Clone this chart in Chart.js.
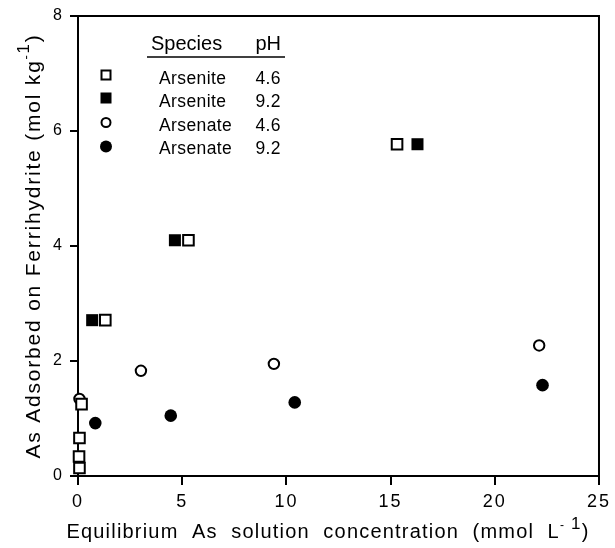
<!DOCTYPE html>
<html>
<head>
<meta charset="utf-8">
<script src="https://cdn.jsdelivr.net/npm/chart.js@4.4.0/dist/chart.umd.min.js"></script>
<style>
  body { margin: 0; background: #fff; }
  #wrap { width: 615px; height: 548px; }
</style>
</head>
<body>
<div id="wrap"><canvas id="myChart" width="615" height="548"></canvas></div>
<script>
// adsorption isotherm data, x = mmol/L, y = mol/kg
const arsenite46 = [
  { x: 0.07, y: 0.14 }, { x: 0.05, y: 0.34 }, { x: 0.07, y: 0.66 },
  { x: 0.17, y: 1.25 }, { x: 1.31, y: 2.71 }, { x: 5.3, y: 4.1 }, { x: 15.31, y: 5.77 }
];
const arsenite92 = [
  { x: 0.68, y: 2.71 }, { x: 4.65, y: 4.1 }, { x: 16.29, y: 5.77 }
];
const arsenate46 = [
  { x: 0.07, y: 1.34 }, { x: 3.02, y: 1.83 }, { x: 9.4, y: 1.95 }, { x: 22.13, y: 2.27 }
];
const arsenate92 = [
  { x: 0.83, y: 0.92 }, { x: 4.45, y: 1.05 }, { x: 10.4, y: 1.28 }, { x: 22.29, y: 1.58 }
];
const xTicks = [0, 5, 10, 15, 20, 25];
const yTicks = [0, 2, 4, 6, 8];
const legendRows = [
  ['Arsenite', '4.6'],
  ['Arsenite', '9.2'],
  ['Arsenate', '4.6'],
  ['Arsenate', '9.2']
];

const FONT = "'Liberation Sans', Arial, Helvetica, sans-serif";

// text with superscript pieces, drawn from a left start point
const drawRich = (ctx, parts, x, y, size) => {
  let cx = x;
  parts.forEach(p => {
    const s = p.sup ? size * p.sup : size;
    ctx.font = s + 'px ' + FONT;
    ctx.fillText(p.t, cx, y - (p.rise || 0));
    cx += ctx.measureText(p.t).width;
  });
};
const richWidth = (ctx, parts, size) => {
  let w = 0;
  parts.forEach(p => {
    const s = p.sup ? size * p.sup : size;
    ctx.font = s + 'px ' + FONT;
    w += ctx.measureText(p.t).width;
  });
  return w;
};

const extras = {
  id: 'extras',
  beforeDraw(chart) {
    chart.ctx.letterSpacing = '2px';
  },
  afterDraw(chart) {
    const ctx = chart.ctx;
    const a = chart.chartArea;
    ctx.save();
    ctx.fillStyle = '#000';
    ctx.strokeStyle = '#000';

    // top and right frame lines
    ctx.lineWidth = 2;
    ctx.beginPath();
    ctx.moveTo(a.left, a.top);
    ctx.lineTo(a.right, a.top);
    ctx.lineTo(a.right, a.bottom);
    ctx.stroke();

    // legend table
    ctx.letterSpacing = '0px';
    ctx.textBaseline = 'alphabetic';
    ctx.font = '20px ' + FONT;
    ctx.textAlign = 'left';
    ctx.fillText('Species', 151, 50);
    ctx.textAlign = 'right';
    ctx.fillText('pH', 281, 50);
    ctx.lineWidth = 1.5;
    ctx.beginPath();
    ctx.moveTo(147, 57);
    ctx.lineTo(285, 57);
    ctx.stroke();

    ctx.font = '17.5px ' + FONT;
    ctx.letterSpacing = '0.4px';
    ctx.textBaseline = 'middle';
    const rowY = [79, 102, 126, 149];
    const markY = [75, 98, 122.5, 146.5];
    legendRows.forEach((r, i) => {
      ctx.textAlign = 'left';
      ctx.fillText(r[0], 159, rowY[i]);
      ctx.textAlign = 'right';
      ctx.fillText(r[1], 281, rowY[i]);
    });
    const mx = 106;
    ctx.lineWidth = 2;
    ctx.strokeRect(mx - 4.5, markY[0] - 4.5, 9, 9);
    ctx.fillRect(mx - 5.5, markY[1] - 5.5, 11, 11);
    ctx.beginPath();
    ctx.arc(mx, markY[2], 4.5, 0, Math.PI * 2);
    ctx.stroke();
    ctx.beginPath();
    ctx.arc(mx, markY[3], 6, 0, Math.PI * 2);
    ctx.fill();

    // axis titles
    ctx.textAlign = 'left';
    ctx.textBaseline = 'alphabetic';
    ctx.letterSpacing = '1.8px';
    const yTitle = [
      { t: 'As Adsorbed on Ferrihydrite (mol kg' },
      { t: '-', sup: 0.6, rise: 10 },
      { t: '1', sup: 0.8, rise: 11 },
      { t: ')' }
    ];
    ctx.save();
    ctx.translate(40, 246);
    ctx.rotate(-Math.PI / 2);
    const yw = richWidth(ctx, yTitle, 21);
    drawRich(ctx, yTitle, -yw / 2, 0, 21);
    ctx.restore();

    ctx.letterSpacing = '1.2px';
    const xTitle = [
      { t: 'Equilibrium  As  solution  concentration  (mmol  L' },
      { t: '-', sup: 0.6, rise: 9 },
      { t: ' 1', sup: 0.85, rise: 9 },
      { t: ')' }
    ];
    const xw = richWidth(ctx, xTitle, 20);
    drawRich(ctx, xTitle, 328 - xw / 2, 538, 20);
    ctx.restore();
  }
};

const ctx = document.getElementById('myChart');
const chart = new Chart(ctx, {
  type: 'scatter',
  data: {
    datasets: [
      {
        label: 'Arsenite pH 4.6',
        data: arsenite46,
        pointStyle: 'rect',
        pointRadius: 7.5,
        borderWidth: 2,
        borderColor: '#000',
        backgroundColor: '#fff',
        clip: false
      },
      {
        label: 'Arsenite pH 9.2',
        data: arsenite92,
        pointStyle: 'rect',
        pointRadius: 8.5,
        borderWidth: 0,
        borderColor: '#000',
        backgroundColor: '#000',
        clip: false
      },
      {
        label: 'Arsenate pH 4.6',
        data: arsenate46,
        pointStyle: 'circle',
        pointRadius: 5.2,
        borderWidth: 2,
        borderColor: '#000',
        backgroundColor: '#fff',
        clip: false
      },
      {
        label: 'Arsenate pH 9.2',
        data: arsenate92,
        pointStyle: 'circle',
        pointRadius: 6.3,
        borderWidth: 0,
        borderColor: '#000',
        backgroundColor: '#000',
        clip: false
      }
    ]
  },
  options: {
    responsive: false,
    animation: false,
    layout: { padding: { top: 16, right: 12, left: 0, bottom: 0 } },
    plugins: {
      legend: { display: false },
      tooltip: { enabled: false }
    },
    scales: {
      x: {
        type: 'linear',
        min: 0,
        max: 25,
        afterFit: s => { s.height = 72; },
        afterBuildTicks: s => { s.ticks = xTicks.map(v => ({ value: v })); },
        grid: { drawOnChartArea: false, drawTicks: true, tickLength: 9, color: '#000', lineWidth: 2 },
        border: { display: true, color: '#000', width: 2 },
        ticks: { color: '#000', font: { family: FONT, size: 18 }, padding: 6, maxRotation: 0 }
      },
      y: {
        type: 'linear',
        min: 0,
        max: 8,
        afterFit: s => { s.width = 78; },
        afterBuildTicks: s => { s.ticks = yTicks.map(v => ({ value: v })); },
        grid: { drawOnChartArea: false, drawTicks: true, tickLength: 8, color: '#000', lineWidth: 2 },
        border: { display: true, color: '#000', width: 2 },
        ticks: { color: '#000', font: { family: FONT, size: 16 }, padding: 6 }
      }
    }
  },
  plugins: [extras]
});
</script>
</body>
</html>
